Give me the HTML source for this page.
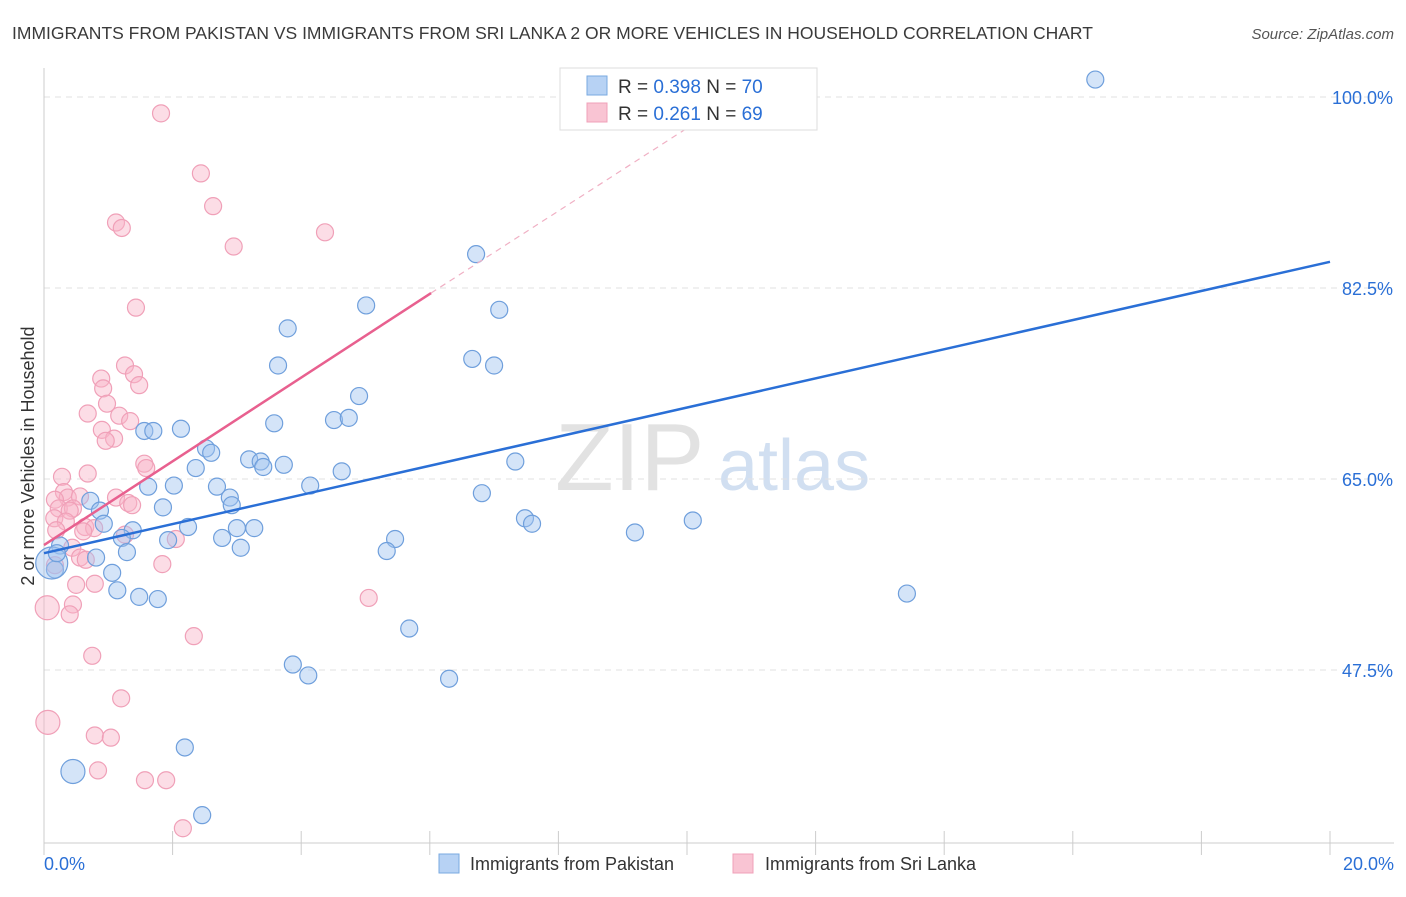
<!DOCTYPE html>
<html><head><meta charset="utf-8"><style>
body{margin:0;background:#fff;font-family:"Liberation Sans",sans-serif;}
svg text{font-family:"Liberation Sans",sans-serif;}
</style></head><body>
<svg id="chart" width="1406" height="892" viewBox="0 0 1406 892" xmlns="http://www.w3.org/2000/svg">
<text x="12" y="39" font-size="17.5" fill="#3a3a3a">IMMIGRANTS FROM PAKISTAN VS IMMIGRANTS FROM SRI LANKA 2 OR MORE VEHICLES IN HOUSEHOLD CORRELATION CHART</text>
<text x="1394" y="39" font-size="15" fill="#555" font-style="italic" text-anchor="end">Source: ZipAtlas.com</text>
<text transform="translate(34,456) rotate(-90)" font-size="18" fill="#333" text-anchor="middle">2 or more Vehicles in Household</text>
<g>
<text x="555" y="490" font-size="96" fill="#dcdcdc" font-family="Liberation Serif" opacity="0.8">ZIP</text>
<text x="718" y="490" font-size="72" fill="#c6d8ee" opacity="0.8">atlas</text>
</g>
<g id="grid"></g>
<g id="axes"></g>
<g id="points"></g>
<g id="lines"></g>
<g>
<rect x="560" y="68" width="257" height="62" fill="#fff" stroke="#ddd"/>
<rect x="587" y="76" width="20" height="19" fill="#b7d2f4" stroke="#7aaae0"/>
<rect x="587" y="103" width="20" height="19" fill="#f9c4d3" stroke="#f0a0b8"/>
<text x="618" y="93" font-size="19" fill="#333">R = <tspan fill="#2a6fd6">0.398</tspan>   N = <tspan fill="#2a6fd6">70</tspan></text>
<text x="618" y="120" font-size="19" fill="#333">R =  <tspan fill="#2a6fd6">0.261</tspan>   N = <tspan fill="#2a6fd6">69</tspan></text>
</g>
<g>
<rect x="439" y="854" width="20" height="19" fill="#b7d2f4" stroke="#7aaae0"/>
<text x="470" y="870" font-size="18" fill="#333">Immigrants from Pakistan</text>
<rect x="733" y="854" width="20" height="19" fill="#f9c4d3" stroke="#f0a0b8"/>
<text x="765" y="870" font-size="18" fill="#333">Immigrants from Sri Lanka</text>
</g>
</svg>
<script>
const yTicks=[100,82.5,65,47.5];
const yTickLabels=["100.0%","82.5%","65.0%","47.5%"];
const xTickLabels=["0.0%","20.0%"];
const blueX=[16.35,6.72,5.01,7.08,3.79,3.64,6.66,7.00,4.90,3.58,4.51,4.74,1.56,1.70,2.13,2.52,2.60,3.19,3.37,3.41,3.73,2.36,4.63,7.33,1.62,2.02,2.69,4.14,2.89,2.92,6.81,0.72,1.85,0.87,7.48,7.59,10.09,0.93,1.38,2.24,3.00,3.27,1.21,1.93,2.77,5.46,9.19,0.25,1.29,3.06,5.33,0.81,0.17,1.06,1.14,1.48,1.77,13.42,5.68,3.87,4.11,6.30,2.19,0.45,2.46,0.12,0.20];
const blueY=[101.6,85.6,80.9,80.5,78.8,75.4,76.0,75.4,72.6,70.1,70.4,70.6,69.4,69.4,69.6,67.8,67.4,66.8,66.6,66.1,66.3,66.0,65.7,66.6,64.3,64.4,64.3,64.4,63.3,62.6,63.7,63.0,62.4,62.1,61.4,60.9,61.2,60.9,60.3,60.6,60.5,60.5,59.6,59.4,59.6,59.5,60.1,58.9,58.3,58.7,58.4,57.8,56.7,56.4,54.8,54.2,54.0,54.5,51.3,48.0,47.0,46.7,40.4,38.2,34.2,57.3,58.2];
const blueBig=[63,65];
const pinkX=[1.82,2.44,2.63,1.12,1.21,2.95,4.37,1.43,1.26,0.89,1.40,0.92,1.48,0.98,0.68,1.17,1.34,0.90,1.09,0.96,1.56,1.59,0.28,0.68,0.31,0.37,0.56,0.17,0.23,0.45,0.40,1.12,1.31,1.37,0.16,0.34,0.19,0.64,0.78,0.61,2.05,1.26,0.44,0.56,0.65,0.17,1.84,0.05,0.50,0.79,0.45,0.40,5.05,2.33,0.75,1.20,0.06,0.79,1.04,0.84,1.57,1.90,2.16];
const pinkY=[98.5,93.0,90.0,88.5,88.0,86.3,87.6,80.7,75.4,74.2,74.6,73.3,73.6,71.9,71.0,70.8,70.3,69.5,68.7,68.5,66.4,66.0,65.2,65.5,63.8,63.3,63.4,63.1,62.3,62.3,62.1,63.3,62.8,62.6,61.4,61.1,60.3,60.6,60.5,60.2,59.5,59.9,58.7,57.8,57.6,57.1,57.2,53.2,55.3,55.4,53.5,52.6,54.1,50.6,48.8,44.9,42.7,41.5,41.3,38.3,37.4,37.4,33.0];
const pinkBig=[47,56];
const blueLine=[[0,58.2],[20,84.9]];
const pinkLine=[[0,58.95],[6.02,82.04]];
const pinkDash=[[6.02,82.04],[10.2,97.9]];

const X0=44,X1=1330,YB=843,YT=68;
const sx=v=>X0+(v/20)*(X1-X0);
const sy=v=>97+(100-v)*10.914;
const NS="http://www.w3.org/2000/svg";
function mk(tag,attrs,parent){const e=document.createElementNS(NS,tag);for(const k in attrs)e.setAttribute(k,attrs[k]);parent.appendChild(e);return e;}
const grid=document.getElementById('grid'),axes=document.getElementById('axes'),pts=document.getElementById('points'),lines=document.getElementById('lines');
yTicks.forEach((t,i)=>{
 const l=mk('line',{x1:X0,x2:1394,y1:sy(t),y2:sy(t),stroke:'#e2e2e2','stroke-dasharray':'6,5'},grid);
 
 
 const tx=mk('text',{x:1393,y:sy(t)+7,'font-size':18,fill:'#2a6fd6','text-anchor':'end'},axes);
 tx.textContent=yTickLabels[i];
 
 
});
mk('line',{x1:X0,x2:X0,y1:YT,y2:YB,stroke:'#ccc'},axes);
mk('line',{x1:X0,x2:1394,y1:YB,y2:YB,stroke:'#ccc'},axes);
for(let i=0;i<=10;i++){
 const t=mk('line',{x1:sx(i*2),x2:sx(i*2),y1:YB-12,y2:YB+12,stroke:'#ccc'},axes);
 
 
}
[[0,'start',44],[20,'end',1394]].forEach((d,i)=>{
 const tx=mk('text',{x:d[2],y:870,'font-size':18,fill:'#2a6fd6','text-anchor':d[1]},axes);
 tx.textContent=xTickLabels[i];
 
 
});
function drawPts(xs,ys,big,fill,stroke,name){
 xs.forEach((x,i)=>{
  const r=big.includes(i)?(i===big[1]&&name==='pakistan-point'?16:12):8.5;
  const c=mk('circle',{cx:sx(x),cy:sy(ys[i]),r:r,fill:fill,stroke:stroke,'stroke-width':1.2},pts);
  
  
 });
}
drawPts(pinkX,pinkY,pinkBig,'rgba(248,180,200,0.45)','#f0a0b8','srilanka-point');
drawPts(blueX,blueY,blueBig,'rgba(160,196,240,0.45)','#6f9fdc','pakistan-point');
const bl=mk('line',{x1:sx(blueLine[0][0]),y1:sy(blueLine[0][1]),x2:sx(blueLine[1][0]),y2:sy(blueLine[1][1]),stroke:'#2a6fd6','stroke-width':2.5},lines);


const pl=mk('line',{x1:sx(pinkLine[0][0]),y1:sy(pinkLine[0][1]),x2:sx(pinkLine[1][0]),y2:sy(pinkLine[1][1]),stroke:'#e8608f','stroke-width':2.5},lines);


const pd=mk('line',{x1:sx(pinkDash[0][0]),y1:sy(pinkDash[0][1]),x2:sx(pinkDash[1][0]),y2:sy(pinkDash[1][1]),stroke:'#f0b0c4','stroke-width':1.2,'stroke-dasharray':'6,5'},lines);


</script>
</body></html>
